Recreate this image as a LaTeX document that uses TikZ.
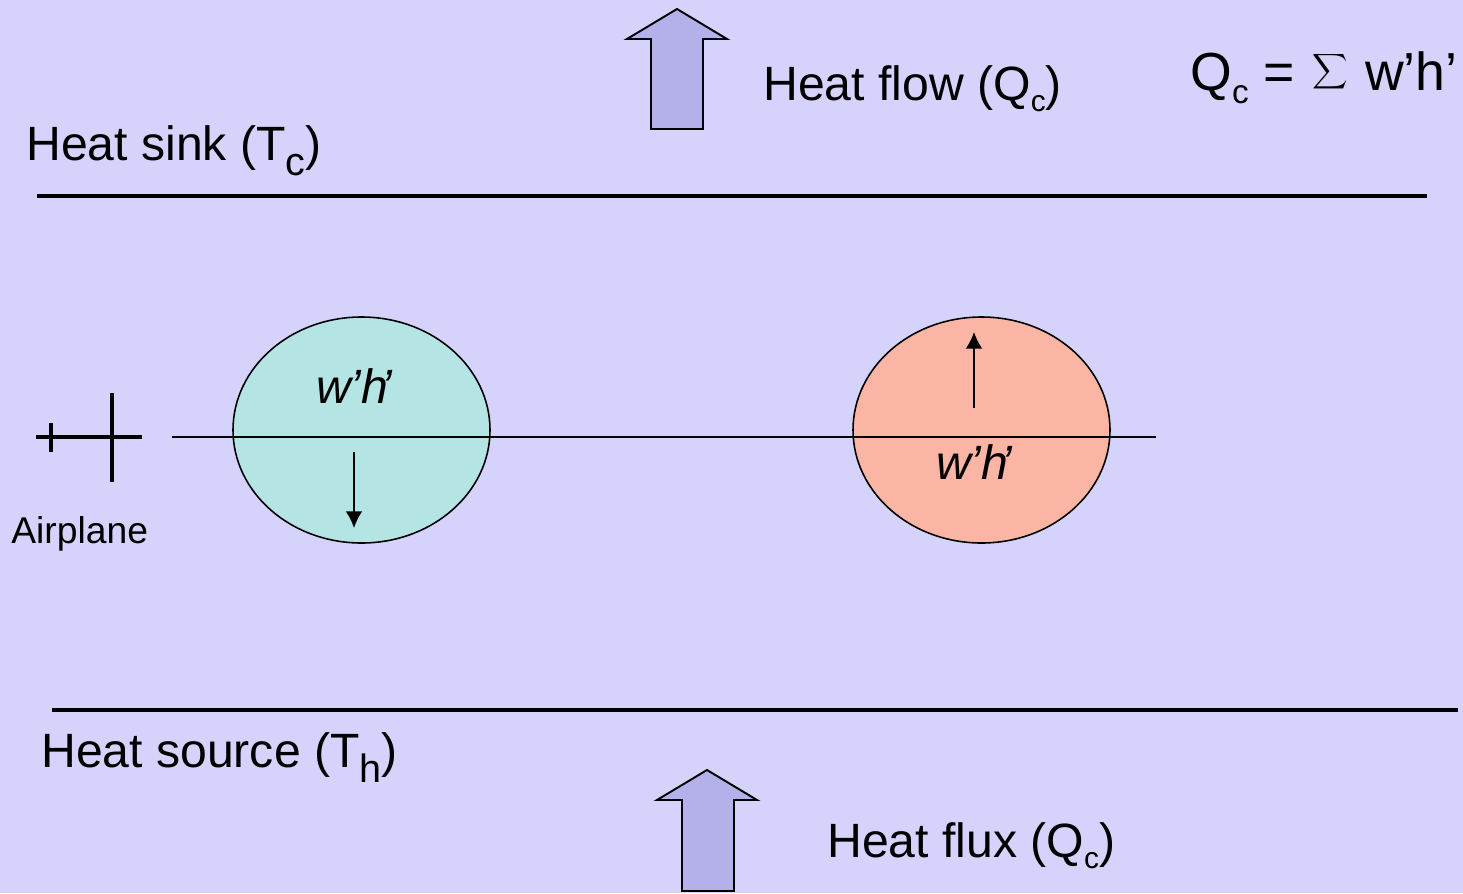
\documentclass[tikz,border=0pt]{standalone}
\usepackage{fontspec}
\setmainfont{Liberation Sans}
\usetikzlibrary{arrows.meta,shapes.geometric}
\definecolor{bgcol}{HTML}{D5D3FB}
\definecolor{arrowcol}{HTML}{B4B0EA}
\definecolor{coolcol}{HTML}{B5E4E4}
\definecolor{warmcol}{HTML}{FBB5A5}
\def\lowc#1{\raisebox{-0.24em}{\fontsize{17}{18}\selectfont #1}}
\def\sumc#1{\raisebox{-0.26em}{\fontsize{19}{20}\selectfont #1}}
\def\bigsub#1{\raisebox{-0.33em}{\fontsize{22.5}{23}\selectfont #1}}
\tikzset{
  label/.style={anchor=base west,inner sep=0pt,font=\fontsize{27.4}{29}\selectfont},
  edddy/.style={draw,line width=0.9pt,ellipse,inner sep=0pt,minimum width=128.5*2*0.02cm,minimum height=113*2*0.02cm},
  blockarrow/.style={draw,line width=1.1pt,fill=arrowcol,line join=miter},
  wall/.style={line width=2.1pt},
  flight/.style={line width=0.9pt},
  plane/.style={line width=2.1pt},
  wprime/.style={inner sep=0pt,anchor=base,font=\fontsize{27.4}{29}\selectfont\itshape},
  drift/.style={line width=0.9pt,-{Latex[length=9.5pt,width=9.5pt]}}
}
\begin{document}
\begin{tikzpicture}[x=0.02cm,y=-0.02cm]
  \useasboundingbox (0,0) rectangle (1463,893);
  \fill[bgcol] (0,0) rectangle (1463,893);
  % block arrows
  \draw[blockarrow] (677,9)--(727,39)--(703,39)--(703,129)--(651,129)--(651,39)--(627,39)--cycle;
  \draw[blockarrow] (707,770)--(757,800)--(734,800)--(734,891)--(682,891)--(682,800)--(657,800)--cycle;
  % walls
  \coordinate (sinkL) at (37,196);
  \coordinate (sinkR) at (1427,196);
  \coordinate (sourceL) at (52,710);
  \coordinate (sourceR) at (1458,710);
  \draw[wall] (sinkL)--(sinkR);
  \draw[wall] (sourceL)--(sourceR);
  \node[label] (flow) at (763,100) {Heat flow (Q\lowc{c})};
  \node[label] (flux) at (827,857) {Heat flux (Q\lowc{c})};
  \node[label] (sink) at (26,160) {Heat sink (T\bigsub{c})};
  \node[label] (source) at (41,767) {Heat source (T\bigsub{h})};
  \node[label,font=\fontsize{30.5}{32}\selectfont] (sumQ) at (1190,90) {Q\sumc{c} = \kern0.05em\raisebox{0.06em}{\scalebox{1.4}{$\displaystyle\sum$}}\kern0.04em{} w’h’};
  % eddies
  \node[edddy,fill=coolcol] (cool) at (361.5,430) {};
  \node[edddy,fill=warmcol] (warm) at (981.5,430) {};
  \coordinate (flightL) at (172,437);
  \coordinate (flightR) at (1156,437);
  \draw[flight] (flightL)--(flightR);
  \node[wprime] (coolw) at (354,403) {w’h\kern-0.15em’};
  \node[wprime] (warmw) at (974,479) {w’h\kern-0.15em’};
  \coordinate (coolA) at (354,452);
  \coordinate (coolB) at (354,528);
  \coordinate (warmA) at (974,408);
  \coordinate (warmB) at (974,332);
  \draw[drift] (coolA)--(coolB);
  \draw[drift] (warmA)--(warmB);
  % airplane
  \coordinate (noseL) at (36,437);
  \coordinate (noseR) at (142,437);
  \coordinate (wingT) at (112,393);
  \coordinate (wingB) at (112,482);
  \coordinate (tailT) at (51,423);
  \coordinate (tailB) at (51,452);
  \draw[plane] (noseL)--(noseR);
  \draw[plane] (wingT)--(wingB);
  \draw[plane] (tailT)--(tailB);
  \node[anchor=base west,inner sep=0pt,font=\fontsize{21.2}{22}\selectfont] (airplane) at (11,543) {Airplane};
\end{tikzpicture}
\end{document}
